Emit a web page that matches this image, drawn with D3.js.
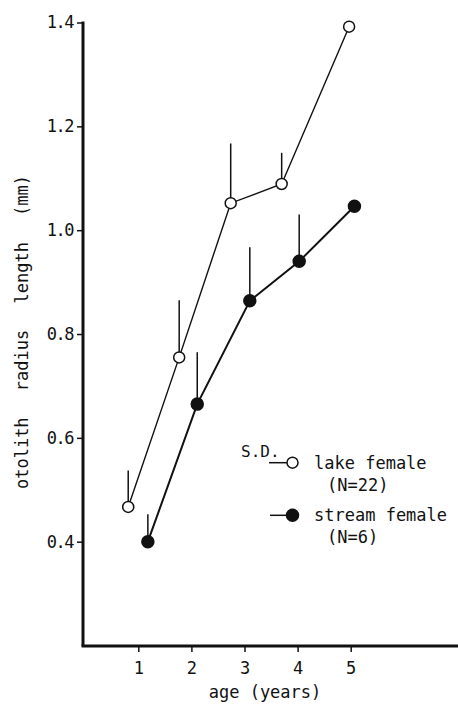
<!DOCTYPE html>
<html>
  <head>
    <meta charset="utf-8">
    <script src="https://d3js.org/d3.v7.min.js"></script>
    <style>
      body { margin: 0; background: #fff; }
      svg { display: block; }
      text { font-family: "DejaVu Sans Mono", monospace; fill: #111; }
    </style>
  </head>
  <body>
    <svg width="458" height="705"></svg>
    <script>
      // values
      const ageTicks = [1, 2, 3, 4, 5];
      const lengthTicks = [0.4, 0.6, 0.8, 1.0, 1.2, 1.4];

      const lakeAge = [0.81, 1.77, 2.74, 3.70, 4.97];
      const lakeMean = [0.467, 0.755, 1.052, 1.089, 1.392];
      const lakeSD = [0.07, 0.11, 0.115, 0.06, null];

      const streamAge = [1.18, 2.11, 3.10, 4.03, 5.07];
      const streamMean = [0.40, 0.665, 0.864, 0.940, 1.046];
      const streamSD = [0.053, 0.10, 0.103, 0.09, null];

      const axisX = 83, axisY = 646;

      const x = d3.scaleLinear().domain([1, 5]).range([138.3, 350.7]);
      const y = d3.scaleLinear().domain([0.4, 1.4]).range([541.7, 22.5]);

      const svg = d3.select("svg");

      // axes
      svg.append("line")
        .attr("x1", axisX).attr("x2", axisX)
        .attr("y1", y(1.4) - 1).attr("y2", axisY)
        .attr("stroke", "#111").attr("stroke-width", 3);
      svg.append("line")
        .attr("x1", axisX - 1.5).attr("x2", 458)
        .attr("y1", axisY).attr("y2", axisY)
        .attr("stroke", "#111").attr("stroke-width", 3);

      const yAxis = d3.axisLeft(y).tickValues(lengthTicks)
        .tickFormat(d3.format(".1f")).tickSize(6).tickPadding(4);
      const gy = svg.append("g")
        .attr("transform", `translate(${axisX},0)`)
        .call(yAxis);
      gy.select(".domain").remove();
      gy.selectAll("line").attr("stroke", "#111").attr("stroke-width", 1.5);
      gy.selectAll("text")
        .style("font-family", "DejaVu Sans Mono, monospace")
        .attr("font-size", 17).attr("letter-spacing", -1.5).attr("fill", "#111");

      const xAxis = d3.axisBottom(x).tickValues(ageTicks)
        .tickFormat(d3.format("d")).tickSize(6).tickPadding(10);
      const gx = svg.append("g")
        .attr("transform", `translate(0,${axisY})`)
        .call(xAxis);
      gx.select(".domain").remove();
      gx.selectAll("line").attr("stroke", "#111").attr("stroke-width", 1.5);
      gx.selectAll("text")
        .style("font-family", "DejaVu Sans Mono, monospace")
        .attr("font-size", 17).attr("fill", "#111");

      svg.append("text")
        .attr("x", 265).attr("y", 698)
        .attr("text-anchor", "middle").attr("font-size", 17)
        .text("age (years)");

      svg.append("text")
        .attr("transform", "translate(28,332) rotate(-90)")
        .attr("text-anchor", "middle").attr("font-size", 17)
        .attr("word-spacing", 16)
        .text("otolith radius length (mm)");

      // series
      const lake = lakeAge.map((a, i) => ({ a, m: lakeMean[i], sd: lakeSD[i] }));
      const stream = streamAge.map((a, i) => ({ a, m: streamMean[i], sd: streamSD[i] }));

      const line = d3.line().x(d => x(d.a)).y(d => y(d.m));

      function drawSeries(data, filled, lw) {
        svg.append("g").selectAll("line")
          .data(data.filter(d => d.sd != null))
          .join("line")
          .attr("x1", d => x(d.a)).attr("x2", d => x(d.a))
          .attr("y1", d => y(d.m)).attr("y2", d => y(d.m + d.sd))
          .attr("stroke", "#111").attr("stroke-width", 1.5);

        svg.append("path")
          .datum(data)
          .attr("d", line)
          .attr("fill", "none").attr("stroke", "#111").attr("stroke-width", lw);

        svg.append("g").selectAll("circle")
          .data(data)
          .join("circle")
          .attr("cx", d => x(d.a)).attr("cy", d => y(d.m))
          .attr("r", filled ? 6 : 5.5)
          .attr("fill", filled ? "#111" : "#fff")
          .attr("stroke", "#111").attr("stroke-width", 1.5);
      }

      drawSeries(lake, false, 1.4);
      drawSeries(stream, true, 2);

      // legend
      const lg = svg.append("g");
      lg.append("text").attr("x", 241).attr("y", 457).attr("font-size", 16).text("S.D.");
      lg.append("line").attr("x1", 269).attr("x2", 292).attr("y1", 462.7).attr("y2", 462.7)
        .attr("stroke", "#111").attr("stroke-width", 1.5);
      lg.append("circle").attr("cx", 292.5).attr("cy", 462.7).attr("r", 5.5)
        .attr("fill", "#fff").attr("stroke", "#111").attr("stroke-width", 1.5);
      lg.append("text").attr("x", 314).attr("y", 469).attr("font-size", 17).text("lake female");
      lg.append("text").attr("x", 327).attr("y", 491).attr("font-size", 17).text("(N=22)");

      lg.append("line").attr("x1", 270).attr("x2", 292).attr("y1", 515.3).attr("y2", 515.3)
        .attr("stroke", "#111").attr("stroke-width", 1.5);
      lg.append("circle").attr("cx", 292.5).attr("cy", 515.3).attr("r", 6)
        .attr("fill", "#111").attr("stroke", "#111").attr("stroke-width", 1.5);
      lg.append("text").attr("x", 314).attr("y", 521).attr("font-size", 17).text("stream female");
      lg.append("text").attr("x", 327).attr("y", 543).attr("font-size", 17).text("(N=6)");
    </script>
  </body>
</html>
